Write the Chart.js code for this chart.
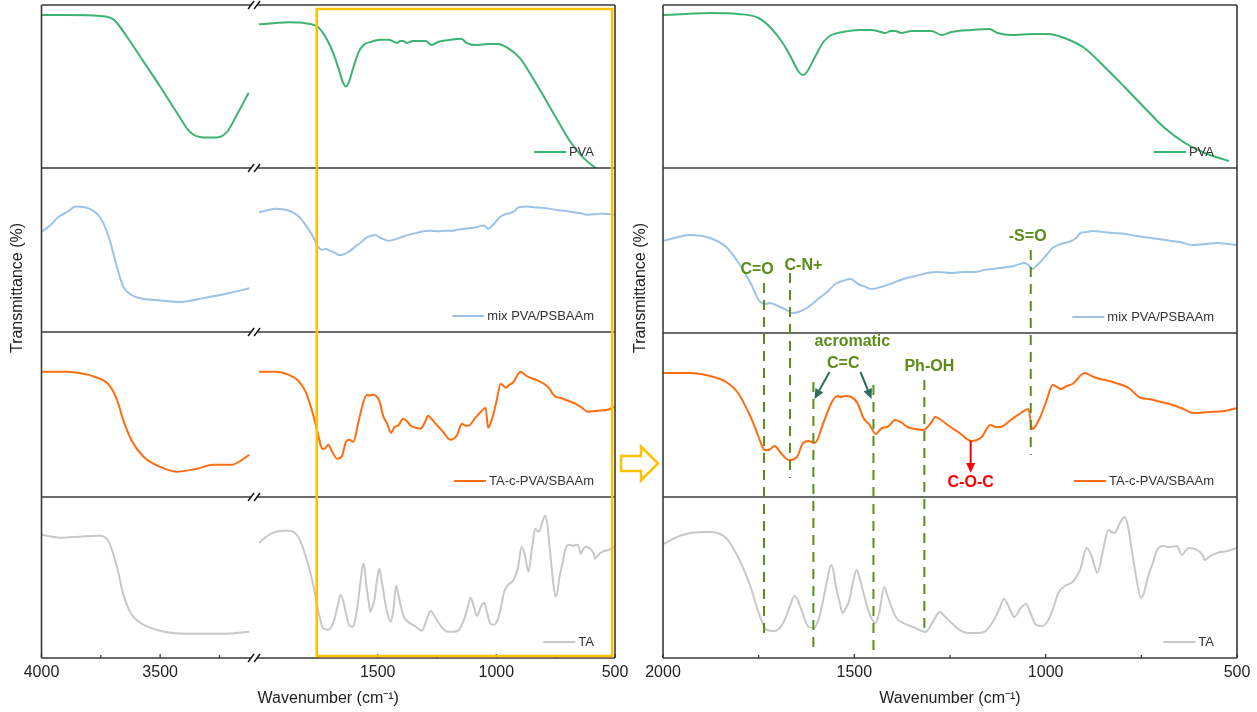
<!DOCTYPE html>
<html lang="en">
<head>
<meta charset="utf-8">
<title>FTIR spectra</title>
<script src="https://cdn.jsdelivr.net/npm/chart.js@4.4.1/dist/chart.umd.min.js"></script>
<style>
  html, body { margin: 0; padding: 0; background: #ffffff; }
  #figure { position: relative; width: 1257px; height: 712px; overflow: hidden; }
  .pane { position: absolute; top: 0; height: 712px; }
  #paneLeft { left: 0; width: 660px; }
  #paneRight { left: 625px; width: 632px; }
</style>
</head>
<body>
<div id="figure">
  <div class="pane" id="paneLeft"><canvas id="ftirLeft"></canvas></div>
  <div class="pane" id="paneRight"><canvas id="ftirRight"></canvas></div>
</div>
<script>
const FONT = "'Liberation Sans', Arial, Helvetica, sans-serif";
Chart.defaults.font.family = FONT;
Chart.defaults.color = '#222222';

// ---------- series ----------
const seriesNames = ['PVA', 'mix PVA/PSBAAm', 'TA-c-PVA/SBAAm', 'TA'];
const seriesColors = ['#3CB371', '#9DC3E6', '#FF6D12', '#C8C8C8'];

// fingerprint window, 2000–500 cm-1 (arbitrary transmittance units)
const pvaFpWave = [2000,1940,1877,1804,1750,1718,1687,1666,1645,1634,1624,1603,1581,1560,1530,1487,1456,1430,1419,1405,1393,1377,1351,1298,1272,1246,1194,1147,1126,1088,1035,993,951,899,846,794,741,689,636,584,521];
const pvaFp     = [153,154,155,154,150,140,125,111,96,93,96,111,126,133,136,138,138,136,135,137,137,135,137,137,133,136,138,139,135,133,134,134,130,120,101,81,60,40,25,15,7];

const mixFpWave = [2000,1960,1929,1877,1835,1804,1771,1750,1734,1720,1700,1682,1662,1646,1620,1592,1571,1550,1530,1510,1490,1470,1456,1430,1400,1372,1340,1309,1280,1246,1215,1183,1160,1140,1120,1098,1075,1056,1045,1035,1025,1014,998,982,961,940,920,909,893,877,850,825,790,762,725,689,650,615,580,552,525,500];
const mixFp     = [192,196,198,195,186,171,150,133,129,130,127,124,120,121,126,135,141,149,152,154,149,146,144,146,150,154,157,160,161,160,161,161,163,164,165,166,168,170,168,164,167,171,178,185,189,191,195,200,201,202,201,200,199,197,195,193,191,188,189,190,189,188];

const tacFpWave = [2000,1929,1877,1835,1804,1771,1750,1740,1734,1724,1708,1692,1671,1650,1634,1619,1603,1581,1560,1545,1535,1524,1508,1492,1476,1460,1444,1428,1414,1393,1375,1361,1340,1319,1300,1288,1270,1256,1225,1194,1167,1145,1130,1119,1088,1065,1045,1035,1025,1014,998,982,970,961,945,930,898,880,867,825,783,751,730,709,667,640,615,573,531,500];
const tacFp     = [124,124,121,115,104,80,60,50,47,47,51,44,37,40,54,56,54,74,94,101,100,101,100,94,79,72,63,69,70,77,74,70,68,67,74,80,76,72,64,56,60,72,70,70,78,84,88,68,72,80,96,112,110,108,111,113,124,121,119,115,109,99,98,96,92,88,84,85,86,89];

const taFpWave = [2000,1950,1900,1877,1835,1804,1771,1750,1729,1708,1695,1682,1668,1657,1648,1640,1619,1605,1595,1587,1571,1561,1555,1548,1538,1531,1522,1513,1504,1494,1486,1476,1461,1445,1435,1422,1413,1403,1390,1372,1340,1314,1295,1277,1262,1246,1225,1204,1180,1161,1135,1120,1109,1095,1082,1065,1051,1040,1025,1010,993,980,967,950,930,910,893,880,865,850,836,828,820,806,794,785,775,763,751,743,735,720,709,693,678,657,644,635,625,604,590,584,570,552,525,500];
const taFp     = [114,123,126,126,120,101,71,45,28,27,30,38,52,62,58,50,31,30,37,48,78,93,88,71,55,45,50,58,75,88,80,65,45,35,45,71,62,51,40,35,30,26,36,46,41,35,28,25,25,26,38,50,59,50,41,50,54,45,33,32,38,50,65,72,76,88,110,102,85,108,128,126,125,135,141,132,108,80,60,65,78,95,108,112,111,112,103,107,110,108,103,98,102,105,107,110];

// O–H stretching window, 4000–3100 cm-1 (same units as above)
const pvaHiWave = [4000,3894,3753,3698,3640,3570,3500,3430,3373,3317,3261,3219,3176,3127];
const pvaHi     = [162,162,161,158,141,117,93,68,49,44,44,49,66,87];
const mixHiWave = [4000,3960,3933,3890,3855,3804,3752,3717,3682,3656,3622,3570,3518,3414,3310,3207,3124];
const mixHi     = [159,171,183,193,202,199,183,151,100,67,53,46,44,41,48,56,64];
const tacHiWave = [4000,3900,3846,3777,3717,3682,3656,3622,3570,3501,3432,3345,3276,3198,3160,3124];
const tacHi     = [124,124,123,119,111,96,76,56,39,29,24,27,31,31,35,41];
const taHiWave  = [4000,3916,3840,3760,3717,3682,3656,3622,3570,3483,3380,3224,3124];
const taHi      = [122,119,120,121,115,90,63,43,32,25,23,23,25];

const fpWaves = [pvaFpWave, mixFpWave, tacFpWave, taFpWave];
const fpValues = [pvaFp, mixFp, tacFp, taFp];
const hiWaves = [pvaHiWave, mixHiWave, tacHiWave, taHiWave];
const hiValues = [pvaHi, mixHi, tacHi, taHi];

// ---------- axes ----------
const leftTicks = [4000, 3500, 1500, 1000, 500];
const leftMinorTicks = [3750, 3250, 1750, 1250, 750];
const rightTicks = [2000, 1500, 1000, 500];
const rightMinorTicks = [1750, 1250, 750];
const highWindow = [4000, 3100];
const lowWindow = [2000, 500];
const BREAK_GAP = 17;

const leftWeights = [163, 164, 165, 161];
const rightWeights = [163, 165, 164, 161];
const leftRanges = [[14.5, 171.6], [-9.8, 266.8], [-1.3, 163.7], [-1.3, 159.7]];
const rightRanges = [[0, 163], [100, 265], [0, 164], [0, 161]];
const yIds = ['y1', 'y2', 'y3', 'y4'];   // top to bottom

// broken wavenumber axis of the overview panel: 4000–3100 | 2000–500
function leftU(w) {
  const hiSpan = highWindow[0] - highWindow[1];
  return w >= highWindow[1] ? highWindow[0] - w : hiSpan + BREAK_GAP + (lowWindow[0] - w);
}

// ---------- band assignments (detail panel) ----------
const guideLines = [
  { w: 1736, from: ['y2', 150], to: ['y4', 19] },
  { w: 1668, from: ['y2', 160], to: ['y3', 19] },
  { w: 1607, from: ['y3', 115], to: ['y4', 8] },
  { w: 1450, from: ['y3', 112], to: ['y4', 3] },
  { w: 1317, from: ['y3', 117], to: ['y4', 26] },
  { w: 1039, from: ['y2', 183], to: ['y3', 42] }
];
const bandLabels = [
  { text: 'C=O', w: 1754, at: ['y2', 163], color: '#5B8C17' },
  { text: 'C-N+', w: 1633, at: ['y2', 167], color: '#5B8C17' },
  { text: '-S=O', w: 1047, at: ['y2', 196], color: '#5B8C17' },
  { text: 'acromatic', w: 1505, at: ['y3', 155], color: '#5B8C17' },
  { text: 'C=C', w: 1529, at: ['y3', 133], color: '#5B8C17' },
  { text: 'Ph-OH', w: 1304, at: ['y3', 130], color: '#5B8C17' },
  { text: 'C-O-C', w: 1196, at: ['y3', 14.5], color: '#FF0000' }
];
const bandArrows = [
  { from: [1565, 'y3', 125], to: [1604, 'y3', 98], color: '#2D6E5E' },
  { from: [1484, 'y3', 125], to: [1455, 'y3', 98], color: '#2D6E5E' },
  { from: [1196, 'y3', 56], to: [1196, 'y3', 24], color: '#FF0000' }
];

// ---------- helpers ----------
const FRAME = '#3a3a3a';

function points(waves, values, map) {
  return waves.map((w, i) => ({ x: map ? map(w) : w, y: values[i] }));
}
function lineSet(label, color, axis, data) {
  return {
    label, data, yAxisID: axis,
    borderColor: color, backgroundColor: color,
    borderWidth: 2, pointRadius: 0, fill: false,
    cubicInterpolationMode: 'monotone', borderJoinStyle: 'round'
  };
}
function yAxis(range, weight) {
  return {
    type: 'linear', position: 'left', stack: 'panel', stackWeight: weight,
    min: range[0], max: range[1], offset: false, display: true,
    grid: { display: false }, border: { display: false },
    ticks: { display: false }, title: { display: false },
    afterFit(s) { s.width = 0; }
  };
}
function xAxisBase(extra) {
  return Object.assign({
    type: 'linear', position: 'bottom', offset: false,
    grid: { display: false }, border: { display: false },
    title: { display: true, text: 'Wavenumber (cm\u207B\u00B9)', color: '#222', font: { size: 16 }, padding: { top: 0, bottom: 4 } },
    afterFit(s) { s.height = 54; }
  }, extra);
}
// stacked axes are laid out bottom-up, so the lowest panel is registered first
function addStackedAxes(scales, ranges, weights) {
  for (let i = yIds.length - 1; i >= 0; i--) scales[yIds[i]] = yAxis(ranges[i], weights[i]);
  return scales;
}

function drawFrame(chart, brk) {
  const ctx = chart.ctx, a = chart.chartArea;
  ctx.save();
  ctx.strokeStyle = FRAME;
  ctx.lineWidth = 1.6;
  const ys = [a.top].concat(yIds.map(id => chart.scales[id].bottom));
  ys.forEach(y => {
    ctx.beginPath();
    if (brk) {
      ctx.moveTo(a.left, y); ctx.lineTo(brk[0], y);
      ctx.moveTo(brk[1], y); ctx.lineTo(a.right, y);
    } else {
      ctx.moveTo(a.left, y); ctx.lineTo(a.right, y);
    }
    ctx.stroke();
    if (brk) {
      ctx.save();
      ctx.lineWidth = 1.4;
      ctx.strokeStyle = '#111';
      [brk[0], brk[1]].forEach(cx => {
        ctx.beginPath(); ctx.moveTo(cx - 3, y + 4); ctx.lineTo(cx + 3, y - 4); ctx.stroke();
      });
      ctx.restore();
    }
  });
  ctx.beginPath();
  ctx.moveTo(a.left, a.top); ctx.lineTo(a.left, a.bottom);
  ctx.moveTo(a.right, a.top); ctx.lineTo(a.right, a.bottom);
  ctx.stroke();
  ctx.restore();
}
function drawTickMarks(chart, majors, minors, map) {
  const ctx = chart.ctx, s = chart.scales.x, b = chart.chartArea.bottom;
  ctx.save();
  ctx.strokeStyle = FRAME; ctx.lineWidth = 1.3;
  majors.forEach(w => { const x = s.getPixelForValue(map(w)); ctx.beginPath(); ctx.moveTo(x, b); ctx.lineTo(x, b - 4); ctx.stroke(); });
  minors.forEach(w => { const x = s.getPixelForValue(map(w)); ctx.beginPath(); ctx.moveTo(x, b); ctx.lineTo(x, b - 3); ctx.stroke(); });
  ctx.restore();
}
function drawLegends(chart, inset) {
  const ctx = chart.ctx, a = chart.chartArea;
  ctx.save();
  ctx.font = '13px ' + FONT;
  ctx.textAlign = 'left'; ctx.textBaseline = 'middle';
  seriesNames.forEach((name, i) => {
    const s = chart.scales[yIds[i]];
    const y = s.bottom - 16;
    const tw = ctx.measureText(name).width;
    const tx = a.right - inset - tw;
    ctx.fillStyle = '#333';
    ctx.fillText(name, tx, y);
    ctx.strokeStyle = seriesColors[i]; ctx.lineWidth = 2;
    ctx.beginPath(); ctx.moveTo(tx - 35, y); ctx.lineTo(tx - 3, y); ctx.stroke();
  });
  ctx.restore();
}
function drawYTitle(chart, x, y) {
  const ctx = chart.ctx;
  ctx.save();
  ctx.translate(x, y); ctx.rotate(-Math.PI / 2);
  ctx.font = '16px ' + FONT; ctx.fillStyle = '#222';
  ctx.textAlign = 'center'; ctx.textBaseline = 'middle';
  ctx.fillText('Transmittance (%)', 0, 0);
  ctx.restore();
}
function drawArrow(ctx, x0, y0, x1, y1, color, head) {
  const ang = Math.atan2(y1 - y0, x1 - x0);
  const bx = x1 - head * Math.cos(ang), by = y1 - head * Math.sin(ang);
  ctx.save();
  ctx.strokeStyle = color; ctx.fillStyle = color; ctx.lineWidth = 2;
  ctx.beginPath(); ctx.moveTo(x0, y0); ctx.lineTo(bx, by); ctx.stroke();
  const hw = head * 0.45;
  ctx.beginPath();
  ctx.moveTo(x1, y1);
  ctx.lineTo(bx + hw * Math.sin(ang), by - hw * Math.cos(ang));
  ctx.lineTo(bx - hw * Math.sin(ang), by + hw * Math.cos(ang));
  ctx.closePath(); ctx.fill();
  ctx.restore();
}

// ---------- overview panel (broken axis) ----------
const leftDatasets = [];
seriesNames.forEach((name, i) => {
  leftDatasets.push(lineSet(name, seriesColors[i], yIds[i], points(hiWaves[i], hiValues[i], leftU)));
  leftDatasets.push(lineSet(name, seriesColors[i], yIds[i], points(fpWaves[i], fpValues[i], leftU)));
});
const leftScales = addStackedAxes({
  x: xAxisBase({
    min: 0, max: leftU(lowWindow[1]),
    afterBuildTicks(s) { s.ticks = leftTicks.map(w => ({ value: leftU(w) })); },
    ticks: { autoSkip: false, maxRotation: 0, padding: -3, color: '#222', font: { size: 16 },
      callback: (v, i) => String(leftTicks[i]) }
  })
}, leftRanges, leftWeights);

const leftDecor = {
  id: 'leftDecor',
  afterDraw(chart) {
    const ctx = chart.ctx, a = chart.chartArea, s = chart.scales.x;
    const brk = [s.getPixelForValue(leftU(highWindow[1])) - 4, s.getPixelForValue(leftU(lowWindow[0])) - 2];
    drawFrame(chart, brk);
    drawTickMarks(chart, leftTicks, leftMinorTicks, leftU);
    drawLegends(chart, 21);
    drawYTitle(chart, 18, 288);
    // highlighted fingerprint window
    ctx.save();
    ctx.strokeStyle = '#FFC000'; ctx.lineWidth = 2.5;
    const x0 = s.getPixelForValue(leftU(1757)), x1 = s.getPixelForValue(leftU(512));
    ctx.strokeRect(x0, a.top + 4, x1 - x0, a.bottom - a.top - 6);
    // hollow arrow pointing to the detail panel
    const ax = a.right + 6, ay = chart.scales.y3.bottom - 33.5;
    ctx.beginPath();
    ctx.moveTo(ax, ay - 7.5); ctx.lineTo(ax + 20, ay - 7.5); ctx.lineTo(ax + 20, ay - 17);
    ctx.lineTo(ax + 37, ay); ctx.lineTo(ax + 20, ay + 17); ctx.lineTo(ax + 20, ay + 7.5);
    ctx.lineTo(ax, ay + 7.5); ctx.closePath();
    ctx.stroke();
    ctx.restore();
  }
};

new Chart(document.getElementById('ftirLeft'), {
  type: 'line',
  data: { datasets: leftDatasets },
  options: {
    responsive: true, maintainAspectRatio: false, animation: false, devicePixelRatio: 1,
    normalized: true,
    layout: { padding: { left: 41.5, right: 45, top: 5, bottom: 0 } },
    plugins: { legend: { display: false }, tooltip: { enabled: false } },
    scales: leftScales
  },
  plugins: [leftDecor]
});

// ---------- detail panel (2000–500 cm-1) ----------
const rightDatasets = seriesNames.map((name, i) =>
  lineSet(name, seriesColors[i], yIds[i], points(fpWaves[i], fpValues[i])));
const rightScales = addStackedAxes({
  x: xAxisBase({
    min: lowWindow[1], max: lowWindow[0], reverse: true,
    afterBuildTicks(s) { s.ticks = rightTicks.map(w => ({ value: w })); },
    ticks: { autoSkip: false, maxRotation: 0, padding: -3, color: '#222', font: { size: 16 },
      callback: (v) => String(v) }
  })
}, rightRanges, rightWeights);

const rightDecor = {
  id: 'rightDecor',
  afterDraw(chart) {
    const ctx = chart.ctx, s = chart.scales.x;
    const py = (ref) => chart.scales[ref[0]].getPixelForValue(ref[1]);
    drawFrame(chart, null);
    drawTickMarks(chart, rightTicks, rightMinorTicks, w => w);
    drawLegends(chart, 23);
    drawYTitle(chart, 16, 288);
    // dashed band guides
    ctx.save();
    ctx.strokeStyle = '#5B8C17'; ctx.lineWidth = 2; ctx.setLineDash([10, 7]);
    guideLines.forEach(g => {
      const x = s.getPixelForValue(g.w);
      ctx.beginPath(); ctx.moveTo(x, py(g.from)); ctx.lineTo(x, py(g.to)); ctx.stroke();
    });
    ctx.restore();
    // arrows
    bandArrows.forEach(ar => {
      drawArrow(ctx, s.getPixelForValue(ar.from[0]), chart.scales[ar.from[1]].getPixelForValue(ar.from[2]),
        s.getPixelForValue(ar.to[0]), chart.scales[ar.to[1]].getPixelForValue(ar.to[2]), ar.color, 10);
    });
    // band labels
    ctx.save();
    ctx.font = 'bold 16px ' + FONT;
    ctx.textAlign = 'center'; ctx.textBaseline = 'middle';
    bandLabels.forEach(b => {
      ctx.fillStyle = b.color;
      ctx.fillText(b.text, s.getPixelForValue(b.w), py(b.at));
    });
    ctx.restore();
  }
};

new Chart(document.getElementById('ftirRight'), {
  type: 'line',
  data: { datasets: rightDatasets },
  options: {
    responsive: true, maintainAspectRatio: false, animation: false, devicePixelRatio: 1,
    normalized: true,
    layout: { padding: { left: 38, right: 20, top: 5, bottom: 0 } },
    plugins: { legend: { display: false }, tooltip: { enabled: false } },
    scales: rightScales
  },
  plugins: [rightDecor]
});
</script>
</body>
</html>
